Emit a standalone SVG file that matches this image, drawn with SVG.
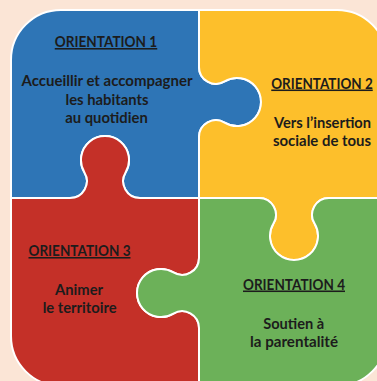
<svg xmlns="http://www.w3.org/2000/svg" width="377" height="381" viewBox="0 0 377 381">
<style>
.piece{stroke:#ffffff;stroke-width:2;stroke-linejoin:round}
.t{font-family:Lato,"Open Sans","Liberation Sans",sans-serif;font-weight:bold;font-size:15.5px;fill:#1c1c1c;text-anchor:middle}
.h{text-decoration:underline}
</style>
<rect x="0" y="0" width="377" height="381" fill="#FBE5D6"/>
<g id="orientation1">
<path class="piece" fill="#2E75B6" d="M11,60 A50,50 0 0 1 61,10 L199,10 L199,67 A16.88,16.88 0 0 0 224.6,81.45 A24,24 0 1 1 224.6,122.55 A16.88,16.88 0 0 0 199,137 L199,198 L140,198 A16.88,16.88 0 0 1 125.55,172.4 A24,24 0 1 0 84.45,172.4 A16.88,16.88 0 0 1 70,198 L11,198 Z"/>
<text class="t h" x="106" y="47" textLength="102.5" lengthAdjust="spacingAndGlyphs">ORIENTATION 1</text>
<text class="t" x="107" y="86" textLength="171" lengthAdjust="spacingAndGlyphs">Accueillir et accompagner</text>
<text class="t" x="107" y="104.5" textLength="83" lengthAdjust="spacingAndGlyphs">les habitants</text>
<text class="t" x="106.5" y="123" textLength="82.5" lengthAdjust="spacingAndGlyphs">au quotidien</text>
</g>
<g id="orientation2">
<path class="piece" fill="#FDBF2B" d="M199,10 L337,10 A50,50 0 0 1 387,60 L387,198 L329,198 A16.88,16.88 0 0 0 314.55,223.6 A24,24 0 1 1 273.45,223.6 A16.88,16.88 0 0 0 259,198 L199,198 L199,137 A16.88,16.88 0 0 1 224.6,122.55 A24,24 0 1 0 224.6,81.45 A16.88,16.88 0 0 1 199,67 Z"/>
<text class="t h" x="322" y="88.5" textLength="101.5" lengthAdjust="spacingAndGlyphs">ORIENTATION 2</text>
<text class="t" x="322.5" y="127.5" textLength="97" lengthAdjust="spacingAndGlyphs">Vers l’insertion</text>
<text class="t" x="322" y="146" textLength="98" lengthAdjust="spacingAndGlyphs">sociale de tous</text>
</g>
<g id="orientation3">
<path class="piece" fill="#C43028" d="M11,198 L70,198 A16.88,16.88 0 0 0 84.45,172.4 A24,24 0 1 1 125.55,172.4 A16.88,16.88 0 0 0 140,198 L199,198 L199,258 A16.88,16.88 0 0 1 173.4,272.45 A24,24 0 1 0 173.4,313.55 A16.88,16.88 0 0 1 199,328 L199,386 L61,386 A50,50 0 0 1 11,336 Z"/>
<text class="t h" x="79.5" y="256" textLength="102" lengthAdjust="spacingAndGlyphs">ORIENTATION 3</text>
<text class="t" x="79" y="294.5" textLength="48" lengthAdjust="spacingAndGlyphs">Animer</text>
<text class="t" x="79.7" y="313" textLength="74" lengthAdjust="spacingAndGlyphs">le territoire</text>
</g>
<g id="orientation4">
<path class="piece" fill="#6CB159" d="M199,198 L259,198 A16.88,16.88 0 0 1 273.45,223.6 A24,24 0 1 0 314.55,223.6 A16.88,16.88 0 0 1 329,198 L387,198 L387,336 A50,50 0 0 1 337,386 L199,386 L199,328 A16.88,16.88 0 0 0 173.4,313.55 A24,24 0 1 1 173.4,272.45 A16.88,16.88 0 0 0 199,258 Z"/>
<text class="t h" x="294" y="289.5" textLength="102" lengthAdjust="spacingAndGlyphs">ORIENTATION 4</text>
<text class="t" x="293.7" y="329" textLength="61" lengthAdjust="spacingAndGlyphs">Soutien à</text>
<text class="t" x="294" y="347" textLength="88" lengthAdjust="spacingAndGlyphs">la parentalité</text>
</g>
<g id="connectors"/>
</svg>
